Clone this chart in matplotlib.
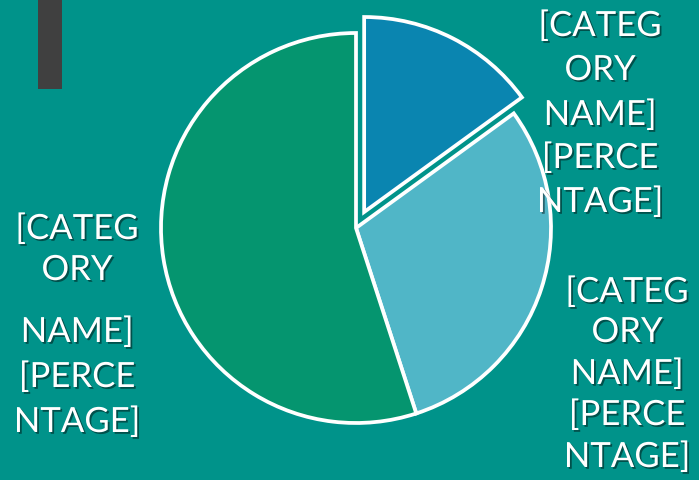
import matplotlib
matplotlib.use("Agg")
import matplotlib.pyplot as plt
import matplotlib.patheffects as pe
from matplotlib.patches import Rectangle

# data
categories = ["[CATEGORY NAME] A", "[CATEGORY NAME] B", "[CATEGORY NAME] C"]
shares = [15, 30, 55]
colors = ["#0A85B0", "#50B6C7", "#05956F"]
label_lines = {
    "top": ["[CATEG", "ORY", "NAME]", "[PERCE", "NTAGE]"],
    "right": ["[CATEG", "ORY", "NAME]", "[PERCE", "NTAGE]"],
    "left": ["[CATEG", "ORY", "NAME]", "[PERCE", "NTAGE]"],
}

BG = "#00938A"
W, H = 699, 481

fig = plt.figure(figsize=(W / 100, H / 100), dpi=100, facecolor=BG)
ax = fig.add_axes([0, 0, 1, 1])
ax.set_facecolor(BG)

cx, cy, r = 356, H - 229, 195
ax.pie(
    shares,
    colors=colors,
    startangle=90,
    counterclock=False,
    radius=r,
    center=(cx, cy),
    explode=[0.092 * r, 0, 0],
    wedgeprops=dict(edgecolor="white", linewidth=2.7, joinstyle="miter"),
    frame=False,
)
ax.set_xlim(0, W)
ax.set_ylim(0, H)
ax.set_aspect("equal")
ax.axis("off")

# dark bar at top-left
ax.add_patch(Rectangle((38, H - 90), 24, 95, facecolor="#404040", edgecolor="none", zorder=5))

shadow = [pe.withSimplePatchShadow(offset=(1.3, -1.3), shadow_rgbFace="black", alpha=0.45)]
# (x center, y of each line in pixels from top)
placements = {
    "top": (600, [27, 71, 116, 159, 203]),
    "right": (627, [293, 333, 375, 416, 458]),
    "left": (77, [230, 271, 333, 378, 423]),
}
for key, (x, ys) in placements.items():
    for text, y in zip(label_lines[key], ys):
        ax.text(x, H - y, text, ha="center", va="center", color="white",
                fontsize=25, family=["Lato", "DejaVu Sans"],
                path_effects=shadow, zorder=6)

fig.savefig("out.png", dpi=100, facecolor=BG)
